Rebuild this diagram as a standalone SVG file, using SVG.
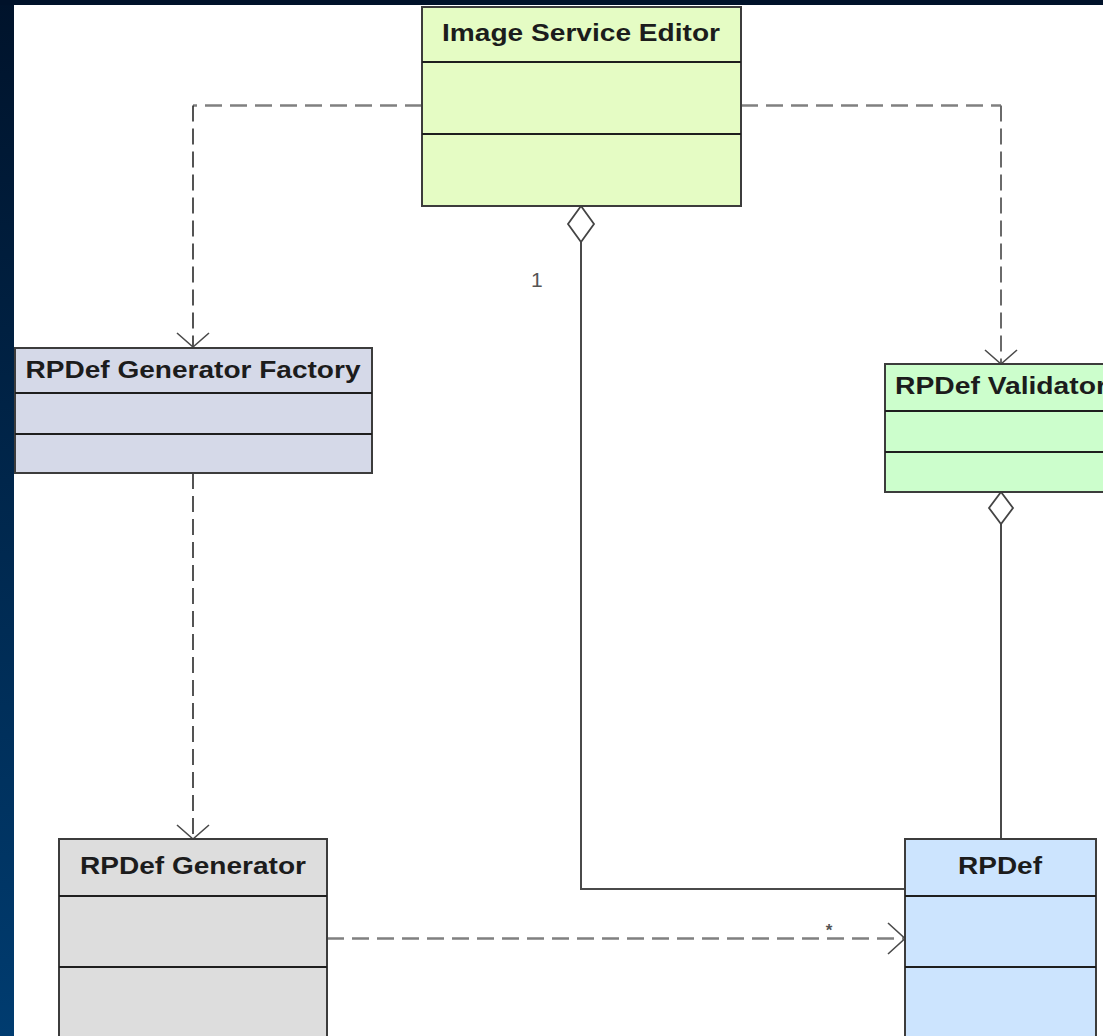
<svg xmlns="http://www.w3.org/2000/svg" width="1103" height="1036" viewBox="0 0 1103 1036">
  <defs>
    <linearGradient id="side" x1="0" y1="0" x2="0" y2="1">
      <stop offset="0" stop-color="#00132b"/>
      <stop offset="1" stop-color="#003c70"/>
    </linearGradient>
    <style>
      .box { stroke: #3c3c3c; stroke-width: 2; }
      .sep { stroke: #1e1e1e; stroke-width: 2; }
      .title { font-family: "Liberation Sans", Arial, sans-serif; font-weight: bold; font-size: 23px; fill: #1c1c1c; }
      .dashH { fill: none; stroke: #808080; stroke-width: 2.5; stroke-dasharray: 17 8; }
      .dashV { fill: none; stroke: #2a2a2a; stroke-width: 1.6; stroke-dasharray: 16 7; }
      .solid { fill: none; stroke: #4a4a4a; stroke-width: 2; }
      .head { fill: none; stroke: #4a4a4a; stroke-width: 1.6; }
      .diamond { fill: #ffffff; stroke: #444444; stroke-width: 1.8; }
      .lbl { font-family: "Liberation Sans", Arial, sans-serif; fill: #555555; }
    </style>
  </defs>

  <!-- background -->
  <rect x="0" y="0" width="1103" height="1036" fill="url(#side)"/>
  <rect x="0" y="0" width="1103" height="5" fill="#00122a"/>
  <rect x="14" y="5" width="1089" height="1031" fill="#ffffff"/>

  <!-- connectors -->
  <g id="connectors">
    <!-- ISE to Factory -->
    <path class="dashH" d="M422,105.5 H193"/>
    <path class="dashV" d="M193,105.5 V347"/>
    <path class="head" d="M177,333 L193,347 L209,333"/>
    <!-- ISE to Validator -->
    <path class="dashH" d="M741,105.5 H1001"/>
    <path class="dashV" d="M1001,105.5 V364" style="stroke:#6a6a6a;stroke-width:2"/>
    <path class="head" d="M985,350 L1001,364 L1017,350"/>
    <!-- Factory to Generator -->
    <path class="dashV" d="M193,473 V839"/>
    <path class="head" d="M177,825 L193,839 L209,825"/>
    <!-- Generator to RPDef -->
    <path class="dashH" d="M327,938.5 H905"/>
    <path class="head" d="M888,923 L905,938.5 L888,954"/>
    <text class="lbl" x="829" y="936" font-size="17" font-weight="bold" text-anchor="middle" fill="#333333">*</text>
    <!-- ISE aggregation to RPDef -->
    <path class="solid" d="M581,242 V889 H905"/>
    <path class="diamond" d="M581,206 L594,224 L581,242 L568,224 Z"/>
    <text class="lbl" x="531" y="287" font-size="21">1</text>
    <!-- Validator aggregation to RPDef -->
    <path class="solid" d="M1001,524 V839"/>
    <path class="diamond" d="M1001,492 L1013,508 L1001,524 L989,508 Z"/>
  </g>

  <!-- nodes -->
  <g id="image-service-editor">
    <rect class="box" x="422" y="7" width="319" height="199" fill="#e5fcc4"/>
    <line class="sep" x1="422" y1="62" x2="741" y2="62"/>
    <line class="sep" x1="422" y1="134" x2="741" y2="134"/>
    <text class="title" x="581" y="41" text-anchor="middle" textLength="278" lengthAdjust="spacingAndGlyphs">Image Service Editor</text>
  </g>

  <g id="rpdef-generator-factory">
    <rect class="box" x="15" y="348" width="357" height="125" fill="#d5d9e8"/>
    <line class="sep" x1="15" y1="393" x2="372" y2="393"/>
    <line class="sep" x1="15" y1="434" x2="372" y2="434"/>
    <text class="title" x="193" y="378" text-anchor="middle" textLength="335" lengthAdjust="spacingAndGlyphs">RPDef Generator Factory</text>
  </g>

  <g id="rpdef-validator">
    <rect class="box" x="885" y="364" width="240" height="128" fill="#ccfecc"/>
    <line class="sep" x1="885" y1="411" x2="1125" y2="411"/>
    <line class="sep" x1="885" y1="452" x2="1125" y2="452"/>
    <text class="title" x="895" y="394" textLength="212" lengthAdjust="spacingAndGlyphs">RPDef Validator</text>
  </g>

  <g id="rpdef-generator">
    <rect class="box" x="59" y="839" width="268" height="220" fill="#dddddd"/>
    <line class="sep" x1="59" y1="896" x2="327" y2="896"/>
    <line class="sep" x1="59" y1="967" x2="327" y2="967"/>
    <text class="title" x="193" y="874" text-anchor="middle" textLength="226" lengthAdjust="spacingAndGlyphs">RPDef Generator</text>
  </g>

  <g id="rpdef">
    <rect class="box" x="905" y="839" width="191" height="220" fill="#cce4fe"/>
    <line class="sep" x1="905" y1="896" x2="1096" y2="896"/>
    <line class="sep" x1="905" y1="967" x2="1096" y2="967"/>
    <text class="title" x="1000" y="874" text-anchor="middle" textLength="84" lengthAdjust="spacingAndGlyphs">RPDef</text>
  </g>
</svg>
